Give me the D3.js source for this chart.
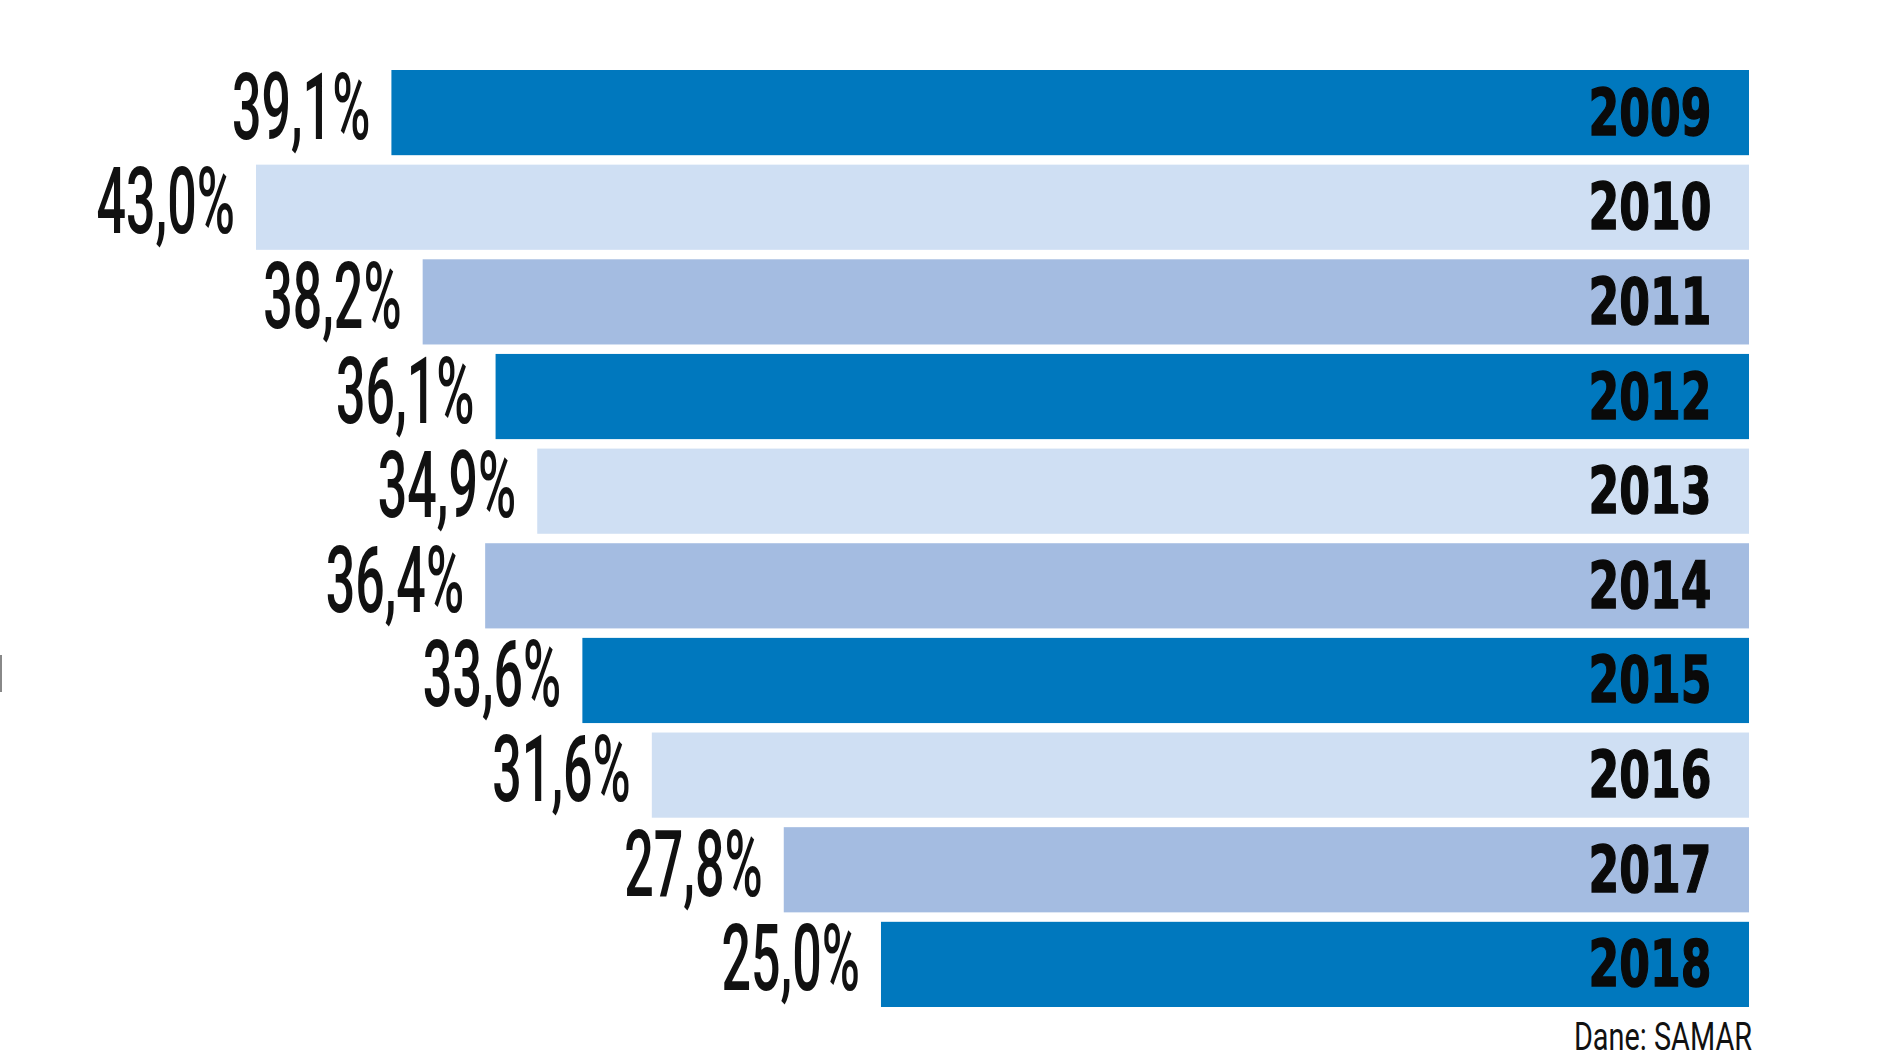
<!DOCTYPE html>
<html>
<head>
<meta charset="utf-8">
<script src="https://cdn.jsdelivr.net/npm/d3@7"></script>
<style>
  body { margin: 0; background: #fff; }
  svg { display: block; }
</style>
</head>
<body>
<div id="chart"></div>
<script>
// data
const years = ["2009", "2010", "2011", "2012", "2013", "2014", "2015", "2016", "2017", "2018"];
const shares = [39.1, 43.0, 38.2, 36.1, 34.9, 36.4, 33.6, 31.6, 27.8, 25.0];
const shareLabels = ["39,1%", "43,0%", "38,2%", "36,1%", "34,9%", "36,4%", "33,6%", "31,6%", "27,8%", "25,0%"];
const palette = ["#0078be", "#cfdff3", "#a4bce1"];
const source = "Dane: SAMAR";

const width = 1880, height = 1060;
const right = 1749;

const svg = d3.select("#chart").append("svg")
  .attr("width", width)
  .attr("height", height);

// bars grow leftwards from a common right edge
const x = d3.scaleLinear()
  .domain([0, 43])
  .range([0, 1493]);

const y = d3.scaleBand()
  .domain(years)
  .range([70, 1007])
  .paddingInner(0.1)
  .paddingOuter(0);

const rows = svg.append("g").selectAll("g")
  .data(years)
  .enter()
  .append("g");

rows.append("rect")
  .attr("x", (d, i) => right - x(shares[i]))
  .attr("y", d => y(d))
  .attr("width", (d, i) => x(shares[i]))
  .attr("height", y.bandwidth())
  .attr("fill", (d, i) => palette[i % 3]);

// percentage labels, condensed by a horizontal scale
const pctScale = 0.565;
rows.append("g")
  .attr("transform", (d, i) => "translate(" + (right - x(shares[i]) - 21) + "," + (y(d) + y.bandwidth() / 2 + 26) + ")")
  .append("text")
  .attr("transform", "scale(" + pctScale + ",1)")
  .attr("text-anchor", "end")
  .style("font-family", "Roboto")
  .style("font-weight", 500)
  .style("font-size", "92px")
  .attr("fill", "#111")
  .text((d, i) => shareLabels[i]);

// year labels inside the bars
const yearScale = 0.69;
rows.append("g")
  .attr("transform", d => "translate(1650," + (y(d) + y.bandwidth() / 2 + 22) + ")")
  .append("text")
  .attr("transform", "scale(" + yearScale + ",1)")
  .attr("text-anchor", "middle")
  .style("font-family", "DejaVu Sans")
  .style("font-weight", "bold")
  .style("font-size", "64px")
  .attr("fill", "#0a0a0a")
  .attr("stroke", "#0a0a0a")
  .attr("stroke-width", 1.5)
  .text(d => d);

// source note
svg.append("g")
  .attr("transform", "translate(1752,1050)")
  .append("text")
  .attr("transform", "scale(0.76,1)")
  .attr("text-anchor", "end")
  .style("font-family", "Roboto")
  .style("font-size", "38px")
  .attr("fill", "#111")
  .text(source);

// small grey mark at the left edge
svg.append("rect")
  .attr("x", 0)
  .attr("y", 655)
  .attr("width", 2)
  .attr("height", 37)
  .attr("fill", "#888");
</script>
</body>
</html>
